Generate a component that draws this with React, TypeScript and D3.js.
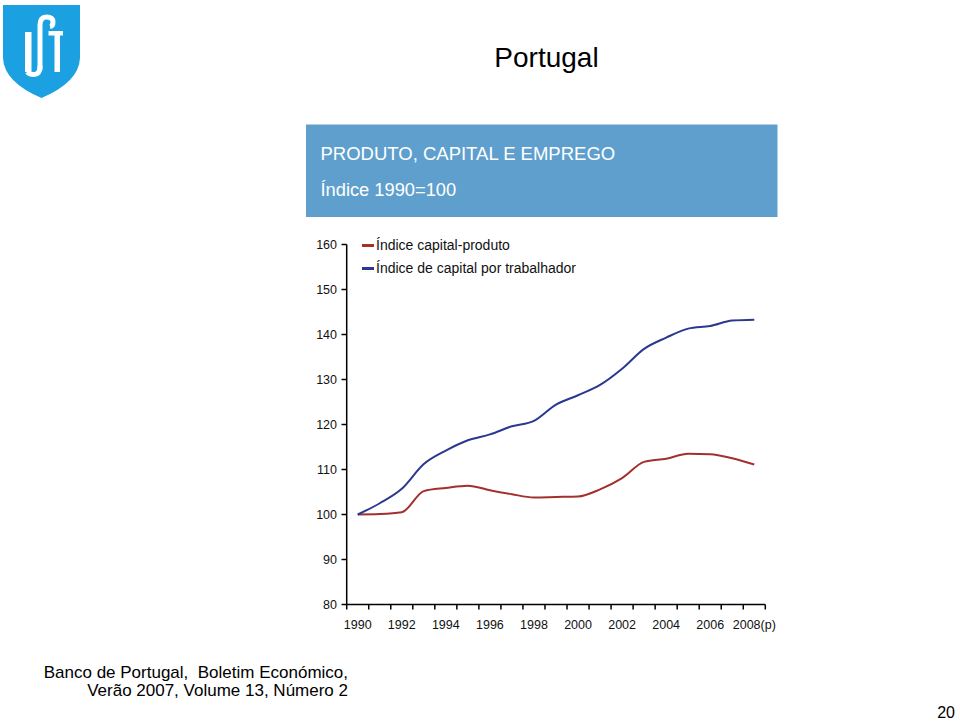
import React from "react";
import * as d3 from "d3";

const categories = ["1990","1991","1992","1993","1994","1995","1996","1997","1998","1999","2000","2001","2002","2003","2004","2005","2006","2007","2008(p)"];
const tickLabels = ["1990","1992","1994","1996","1998","2000","2002","2004","2006","2008(p)"];
const capitalProduto = [100, 100.1, 100.5, 105.2, 105.9, 106.4, 105.4, 104.5, 103.8, 103.9, 104.0, 105.6, 108.1, 111.7, 112.4, 113.5, 113.4, 112.5, 111.1];
const capitalTrabalhador = [100, 102.5, 105.7, 111.2, 114.2, 116.5, 117.8, 119.6, 120.8, 124.4, 126.5, 128.8, 132.4, 136.8, 139.3, 141.3, 141.9, 143.1, 143.3];
const yTicks = [80, 90, 100, 110, 120, 130, 140, 150, 160];
const seriesNames = ["Índice capital-produto", "Índice de capital por trabalhador"];
const seriesColors = ["#a2302c", "#2a3990"];

const FONT = "'Liberation Sans', Arial, sans-serif";

export default function App() {
  const x = d3.scaleBand<string>().domain(categories).range([346.7, 765.3]).paddingInner(0).paddingOuter(0);
  const y = d3.scaleLinear().domain([80, 160]).range([604.5, 244.5]);
  const cx = (c: string) => (x(c) as number) + x.bandwidth() / 2;
  const line = d3.line<number>()
    .x((_, i) => cx(categories[i]))
    .y((v) => y(v))
    .curve(d3.curveMonotoneX);
  const series = [capitalProduto, capitalTrabalhador];
  const boundaries = categories.map((c) => x(c) as number).concat([x.range()[1]]);

  return (
    <svg width={960} height={723} style={{ position: "absolute", left: 0, top: 0 }} fontFamily={FONT}>
      <rect width={960} height={723} fill="#fff" />
      {/* Logo */}
      <g>
        <path d="M3,5 H80 V58 Q79,82 41.5,98 Q4,82 3,58 Z" fill="#1ba1e2" />
        <rect x={25} y={32} width={6.5} height={40} fill="#fff" />
        <path d="M40,70 V25 Q40,17 46.5,17 Q53,17 53,22 Q53,26 50,26.5" fill="none" stroke="#fff" strokeWidth={5} />
        <path d="M40,66 Q40,74.5 34,74.5 Q29,74.5 27.5,72" fill="none" stroke="#fff" strokeWidth={5} />
        <rect x={48.5} y={31} width={14.5} height={4.5} fill="#fff" />
        <rect x={54.5} y={31} width={5.5} height={41} fill="#fff" />
      </g>
      {/* Title */}
      <text x={546.5} y={66.5} fontSize={28} textAnchor="middle" fill="#000">Portugal</text>
      {/* Header box */}
      <rect x={306} y={124.5} width={471.5} height={92.5} fill="#5f9fcd" />
      <text x={320.5} y={160} fontSize={18.5} fill="#fff">PRODUTO, CAPITAL E EMPREGO</text>
      <text x={320.5} y={195.5} fontSize={18.3} fill="#fff">Índice 1990=100</text>
      {/* Y axis */}
      <line x1={346.7} x2={346.7} y1={y(160)} y2={y(80)} stroke="#000" strokeWidth={1.5} />
      {yTicks.map((t) => (
        <g key={t}>
          <line x1={341.5} x2={346.7} y1={y(t)} y2={y(t)} stroke="#000" strokeWidth={1.5} />
          <text x={337} y={y(t)} dy="0.35em" fontSize={12.5} textAnchor="end" fill="#111">{t}</text>
        </g>
      ))}
      {/* X axis */}
      <line x1={x.range()[0]} x2={x.range()[1]} y1={y(80)} y2={y(80)} stroke="#000" strokeWidth={1.5} />
      {boundaries.map((b, i) => (
        <line key={i} x1={b} x2={b} y1={y(80)} y2={y(80) + 5} stroke="#000" strokeWidth={1.5} />
      ))}
      {tickLabels.map((t) => (
        <text key={t} x={cx(t)} y={629} fontSize={12.5} textAnchor="middle" fill="#111">{t}</text>
      ))}
      {/* Lines */}
      {series.map((s, i) => (
        <path key={i} d={line(s) as string} fill="none" stroke={seriesColors[i]} strokeWidth={2} strokeLinejoin="round" />
      ))}
      {/* Legend */}
      {seriesNames.map((n, i) => (
        <g key={n}>
          <line x1={362} x2={374} y1={245.5 + i * 23} y2={245.5 + i * 23} stroke={seriesColors[i]} strokeWidth={3} />
          <text x={376} y={245.5 + i * 23} dy="0.35em" fontSize={14} fill="#111">{n}</text>
        </g>
      ))}
      {/* Footer */}
      <text x={348} y={678} fontSize={17} textAnchor="end" fill="#000" xmlSpace="preserve">Banco de Portugal,  Boletim Económico,</text>
      <text x={348} y={695.5} fontSize={17} textAnchor="end" fill="#000">Verão 2007, Volume 13, Número 2</text>
      <text x={955} y={718} fontSize={16} textAnchor="end" fill="#000">20</text>
    </svg>
  );
}
